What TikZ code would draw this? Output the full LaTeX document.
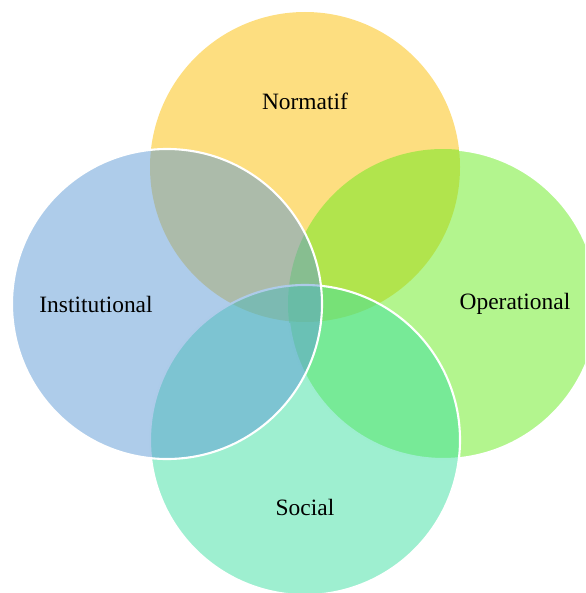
\documentclass[tikz,border=0pt]{standalone}
\usepackage{fontspec}
\setmainfont{Liberation Serif}
\begin{document}
\begin{tikzpicture}[x=0.03cm,y=-0.03cm,
  set/.style={fill opacity=0.5, draw=none},
  rim/.style={draw=white, line width=1.8pt},
  lbl/.style={font=\fontsize{20}{24}\selectfont, text=black}]
\definecolor{cNorm}{RGB}{251,189,1}
\definecolor{cOper}{RGB}{103,235,29}
\definecolor{cSoc}{RGB}{61,223,161}
\definecolor{cInst}{RGB}{93,153,213}
\useasboundingbox (0,0) rectangle (585,593);
\begin{scope}
\clip (0,0) rectangle (585,593);
% Normatif (top)
\fill[set, cNorm] (305,167) circle (155);
% Operational (right)
\fill[set, cOper] (443,304) circle (155);
\draw[rim] (443,304) ++(-84:155) arc[start angle=-84, end angle=173, radius=155];
% Social (bottom)
\fill[set, cSoc] (305,440) circle (155);
\draw[rim] (305,440) circle (155);
% Institutional (left)
\fill[set, cInst] (167,304) circle (155);
\draw[rim] (167,304) circle (155);
\end{scope}
\node[lbl] (norm) at (305,101) {Normatif};
\node[lbl] (inst) at (96,304) {Institutional};
\node[lbl] (oper) at (515,304) {Operational};
\node[lbl] (soc) at (305,507) {Social};
\end{tikzpicture}
\end{document}
